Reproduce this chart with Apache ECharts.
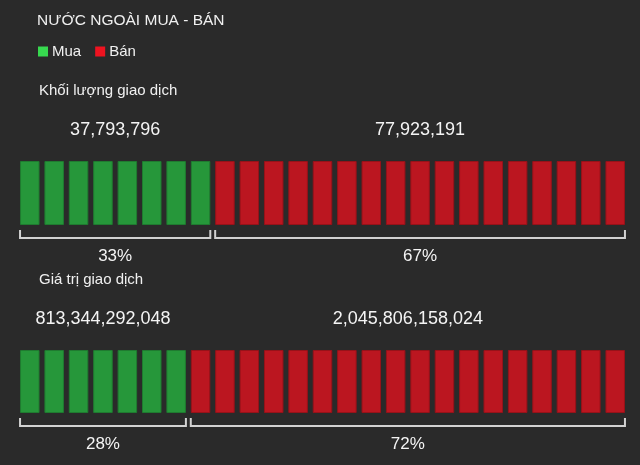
<!DOCTYPE html>
<html>
<head>
<meta charset="utf-8">
<script src="https://cdn.jsdelivr.net/npm/echarts@6/dist/echarts.min.js"></script>
<style>
  html, body { margin: 0; padding: 0; background: #2a2a2a; }
  #main { width: 640px; height: 465px; }
</style>
</head>
<body>
<div id="main"></div>
<script>
// du lieu
var rowTitles = ['Khối lượng giao dịch', 'Giá trị giao dịch'];
var buyValues = [37793796, 813344292048];
var sellValues = [77923191, 2045806158024];
var buyPct = [33, 28];
var sellPct = [67, 72];
var cellCount = 25;
var cells = [];
for (var i = 0; i < cellCount; i++) cells.push(i);

var font = '"Liberation Sans", Arial, Helvetica, sans-serif';
var greenBar = '#26973a', redBar = '#bb1620';

var grids = [
    { left: 17.6, right: 12.6, top: 161, height: 64 },
    { left: 17.6, right: 12.6, top: 350, height: 63 }
];

function fmt(n) { return n.toLocaleString('en-US'); }

var xAxes = [], yAxes = [], series = [], graphics = [];

grids.forEach(function (g, r) {
    var buyCells = Math.round(buyPct[r] / (100 / cellCount));
    xAxes.push({ type: 'category', gridIndex: r, data: cells, show: false });
    yAxes.push({ type: 'value', gridIndex: r, min: 0, max: 1, show: false });

    series.push({
        name: 'Mua', type: 'bar', xAxisIndex: r, yAxisIndex: r,
        barCategoryGap: '20%', barGap: '-100%', silent: true,
        itemStyle: { color: greenBar, borderColor: '#1f7b30', borderWidth: 1 },
        data: cells.map(function (c) { return c < buyCells ? 1 : '-'; })
    });
    series.push({
        name: 'Bán', type: 'bar', xAxisIndex: r, yAxisIndex: r,
        barCategoryGap: '20%', barGap: '-100%', silent: true,
        itemStyle: { color: redBar, borderColor: '#971219', borderWidth: 1 },
        data: cells.map(function (c) { return c >= buyCells ? 1 : '-'; })
    });

    // ngoac + so lieu
    var labels = [
        { value: fmt(buyValues[r]), pct: buyPct[r] + '%' },
        { value: fmt(sellValues[r]), pct: sellPct[r] + '%' }
    ];
    series.push({
        type: 'custom', xAxisIndex: r, yAxisIndex: r, silent: true, clip: false,
        encode: { x: [0, 1], y: 2 },
        data: [[0, buyCells - 1, 0], [buyCells, cellCount - 1, 1]],
        renderItem: function (params, api) {
            var s = api.value(0), e = api.value(1), k = api.value(2);
            var band = api.size([1, 0])[0];
            var barW = band * 0.8;
            var p0 = api.coord([s, 0]);
            var p1 = api.coord([e, 1]);
            var x1 = p0[0] - barW / 2, x2 = p1[0] + barW / 2;
            var yb = p0[1], yt = p1[1];
            var lab = labels[k];
            return {
                type: 'group',
                children: [
                    {
                        type: 'polyline',
                        shape: { points: [[x1, yb + 5], [x1, yb + 13], [x2, yb + 13], [x2, yb + 5]] },
                        style: { stroke: '#d2d2d2', lineWidth: 2, fill: null }
                    },
                    {
                        type: 'text',
                        style: { text: lab.value, x: (x1 + x2) / 2, y: yt - 31, align: 'center', verticalAlign: 'middle',
                                 fill: '#f4f4f4', font: '18px ' + font }
                    },
                    {
                        type: 'text',
                        style: { text: lab.pct, x: (x1 + x2) / 2, y: yb + 31, align: 'center', verticalAlign: 'middle',
                                 fill: '#f4f4f4', font: '17px ' + font }
                    }
                ]
            };
        }
    });

    graphics.push({
        type: 'text',
        style: { text: rowTitles[r], x: 39, y: g.top - 70, verticalAlign: 'middle',
                 fill: '#f0f0f0', font: '15px ' + font }
    });
});

graphics.push({
    type: 'text',
    style: { text: 'NƯỚC NGOÀI MUA - BÁN', x: 37, y: 21, verticalAlign: 'middle',
             fill: '#f0f0f0', font: '15.5px ' + font }
});

var option = {
    backgroundColor: '#2a2a2a',
    animation: false,
    legend: {
        left: 38, top: 44, padding: 0,
        icon: 'rect', itemWidth: 10, itemHeight: 10, itemGap: 14,
        selectedMode: false,
        textStyle: { color: '#f0f0f0', fontSize: 15, fontFamily: font, padding: [0, 0, 0, -1] },
        data: [
            { name: 'Mua', itemStyle: { color: '#37d94f', borderWidth: 0 } },
            { name: 'Bán', itemStyle: { color: '#ee1320', borderWidth: 0 } }
        ]
    },
    grid: grids,
    xAxis: xAxes,
    yAxis: yAxes,
    graphic: graphics,
    series: series
};

var chart = echarts.init(document.getElementById('main'), null, { renderer: 'canvas' });
chart.setOption(option);
</script>
</body>
</html>
